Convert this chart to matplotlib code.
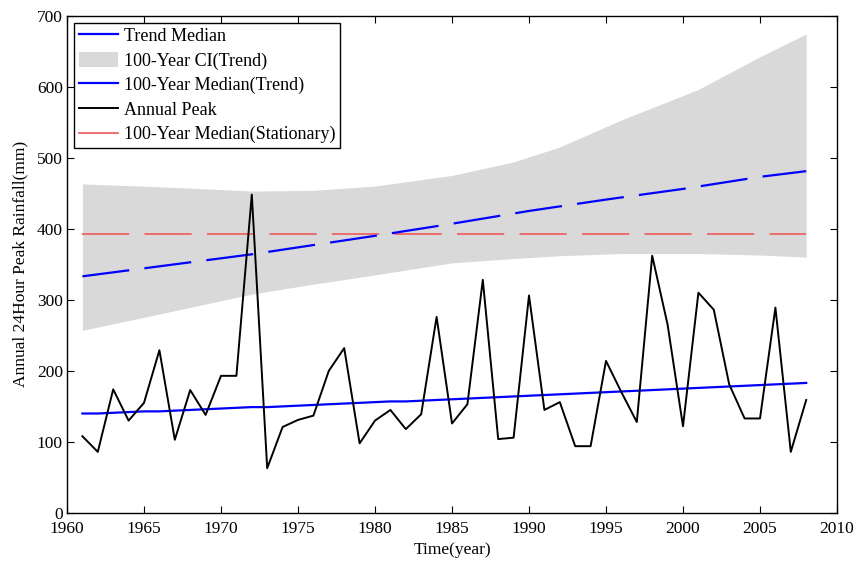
import matplotlib
matplotlib.use("Agg")
import matplotlib.pyplot as plt
from matplotlib.lines import Line2D
from matplotlib.patches import Patch

years = list(range(1961, 2009))
annual_peak = [108, 86, 174, 130, 155, 229, 103, 173, 138, 193,
               193, 448, 63, 121, 131, 137, 200, 232, 98, 130,
               145, 118, 139, 276, 126, 153, 328, 104, 106, 306,
               145, 156, 94, 94, 214, 170, 128, 362, 265, 122,
               310, 286, 181, 133, 133, 289, 86, 159]

trend_median = [140, 140, 141, 142, 143, 143, 144, 145, 146, 147,
                148, 149, 149, 150, 151, 152, 153, 154, 155, 156,
                157, 157, 158, 159, 160, 161, 162, 163, 164, 165,
                166, 167, 168, 169, 170, 171, 172, 173, 174, 175,
                176, 177, 178, 179, 180, 181, 182, 183]

ci_years = [1961, 1966, 1972, 1976, 1980, 1985, 1989, 1992, 1996, 2001, 2005, 2008]
ci_upper = [463, 459, 453, 454, 460, 475, 494, 515, 553, 596, 642, 674]
ci_lower = [257, 280, 308, 322, 335, 352, 358, 362, 365, 365, 363, 360]

med100_years = [1961, 1972, 1980, 1985, 1990, 1995, 2000, 2005, 2008]
med100_trend = [333, 364, 390, 407, 425, 441, 456, 473, 481]

stationary_median = 393

plt.rcParams['font.family'] = ['Liberation Serif', 'DejaVu Serif']
fig = plt.figure(figsize=(8.58, 5.62), dpi=100)
ax = fig.add_axes([67 / 858, 1 - 513 / 562, 770 / 858, 497.5 / 562])

ax.fill_between(ci_years, ci_lower, ci_upper, color='#d9d9d9', linewidth=0, zorder=1)
ax.plot(years, trend_median, color='#0000ff', lw=1.6, zorder=3)
lw = 1.6
ax.plot(med100_years, med100_trend, color='#0000ff', lw=lw,
        dashes=(34 / lw, 11 / lw), zorder=3)
ax.plot(years, annual_peak, color='black', lw=1.4, zorder=4)
lw2 = 1.3
ax.plot([years[0], years[-1]], [stationary_median, stationary_median], color='#ee6464',
        lw=lw2, dashes=(34 / lw2, 11 / lw2), zorder=2)

ax.set_xlim(1960, 2010)
ax.set_ylim(0, 700)
ax.set_xticks(range(1960, 2011, 5))
ax.set_yticks(range(0, 701, 100))
ax.tick_params(direction='in', top=True, right=True, length=5, labelsize=12.5, width=0.8, pad=3)
ax.tick_params(axis='x', pad=6)
for s in ax.spines.values():
    s.set_linewidth(1.0)
ax.set_xlabel('Time(year)', fontsize=12.5, labelpad=3)
ax.set_ylabel('Annual 24Hour Peak Rainfall(mm)', fontsize=12.5, labelpad=6)

labels = ['Trend Median', '100-Year CI(Trend)', '100-Year Median(Trend)', 'Annual Peak',
          '100-Year Median(Stationary)']
handles = [Line2D([], [], color='#0000ff', lw=1.6),
           Patch(facecolor='#d9d9d9', edgecolor='none'),
           Line2D([], [], color='#0000ff', lw=1.6),
           Line2D([], [], color='black', lw=1.4),
           Line2D([], [], color='#ee6464', lw=1.3)]
leg = ax.legend(handles, labels, loc='upper left', fontsize=13, frameon=True, fancybox=False,
                edgecolor='black', framealpha=1, borderaxespad=0.4, handlelength=2.2,
                handleheight=0.9, handletextpad=0.3, labelspacing=0.38, borderpad=0.25)
leg.get_frame().set_linewidth(1.0)

fig.savefig('out.png', dpi=100)
